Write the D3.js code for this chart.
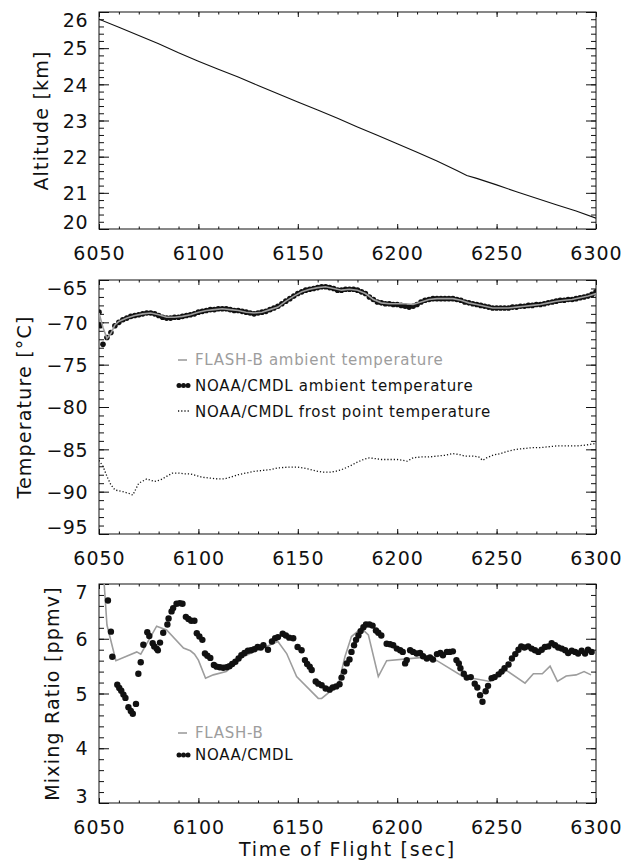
<!DOCTYPE html>
<html><head><meta charset="utf-8">
<script src="https://cdn.jsdelivr.net/npm/d3@7"></script>
<style>
html,body{margin:0;padding:0;background:#fff;}
svg{display:block;}
text{font-family:"DejaVu Sans",sans-serif;fill:#111;}
</style></head>
<body>
<script>
// ---------------- DATA ----------------
const timeDomain = [6050, 6300];
const timeTicks = [6050, 6100, 6150, 6200, 6250, 6300];

const altTicks = [20, 21, 22, 23, 24, 25, 26];
const altitude = [[6050,25.80],[6060,25.58],[6070,25.35],[6080,25.12],[6090,24.87],[6100,24.64],[6110,24.42],[6120,24.20],[6130,23.97],[6140,23.74],[6150,23.51],[6160,23.29],[6170,23.06],[6180,22.82],[6190,22.59],[6200,22.36],[6210,22.12],[6220,21.88],[6230,21.62],[6235,21.48],[6240,21.40],[6250,21.22],[6260,21.03],[6270,20.85],[6280,20.67],[6290,20.50],[6300,20.30]];

const tempTicks = [-95, -90, -85, -80, -75, -70, -65];
const flashTemp = [[6050,-68.9],[6052,-70.6],[6054,-71.9],[6056,-71.3],[6058,-70.3],[6060,-69.9],[6064,-69.5],[6068,-69.2],[6072,-69.0],[6076,-68.9],[6080,-69.1],[6084,-69.4],[6088,-69.4],[6092,-69.3],[6096,-69.1],[6100,-68.8],[6104,-68.6],[6108,-68.5],[6112,-68.4],[6116,-68.5],[6120,-68.6],[6124,-68.8],[6128,-68.9],[6132,-68.8],[6136,-68.5],[6140,-68.2],[6144,-67.5],[6148,-66.9],[6152,-66.4],[6156,-66.1],[6160,-65.9],[6164,-65.8],[6168,-66.0],[6172,-66.2],[6176,-66.1],[6180,-66.2],[6184,-66.6],[6188,-67.3],[6192,-67.7],[6196,-67.8],[6200,-67.8],[6204,-67.8],[6208,-67.9],[6212,-67.6],[6216,-67.3],[6220,-67.2],[6224,-67.2],[6228,-67.2],[6232,-67.4],[6236,-67.7],[6240,-67.9],[6244,-68.1],[6248,-68.3],[6252,-68.3],[6256,-68.3],[6260,-68.2],[6264,-68.1],[6268,-68.0],[6272,-67.9],[6276,-67.7],[6280,-67.5],[6284,-67.4],[6288,-67.3],[6292,-67.1],[6296,-66.9],[6300,-66.6]];

const noaaTemp = [[6050,-68.8],[6050.6,-70.4],[6052,-72.6],[6054,-71.8],[6056,-71.2],[6058,-70.4],[6060,-70.0],[6062,-69.7],[6064,-69.5],[6066,-69.3],[6068,-69.2],[6070,-69.1],[6072,-69.0],[6074,-68.9],[6076,-68.9],[6078,-69.0],[6080,-69.2],[6082,-69.4],[6084,-69.5],[6086,-69.5],[6088,-69.4],[6090,-69.4],[6092,-69.3],[6094,-69.2],[6096,-69.1],[6098,-69.0],[6100,-68.8],[6102,-68.7],[6104,-68.6],[6106,-68.5],[6108,-68.5],[6110,-68.4],[6112,-68.4],[6114,-68.4],[6116,-68.5],[6118,-68.6],[6120,-68.6],[6122,-68.7],[6124,-68.8],[6126,-68.9],[6128,-69.0],[6130,-68.9],[6132,-68.8],[6134,-68.7],[6136,-68.5],[6138,-68.3],[6140,-68.1],[6142,-67.8],[6144,-67.5],[6146,-67.2],[6148,-66.9],[6150,-66.6],[6152,-66.4],[6154,-66.2],[6156,-66.1],[6158,-66.0],[6160,-65.9],[6162,-65.8],[6164,-65.8],[6166,-65.9],[6168,-66.0],[6170,-66.2],[6172,-66.2],[6174,-66.1],[6176,-66.1],[6178,-66.1],[6180,-66.2],[6182,-66.4],[6184,-66.6],[6186,-67.0],[6188,-67.3],[6190,-67.6],[6192,-67.7],[6194,-67.8],[6196,-67.8],[6198,-67.9],[6200,-67.9],[6202,-68.0],[6204,-68.1],[6206,-68.2],[6208,-68.1],[6210,-67.9],[6212,-67.6],[6214,-67.4],[6216,-67.3],[6218,-67.2],[6220,-67.2],[6222,-67.2],[6224,-67.2],[6226,-67.2],[6228,-67.2],[6230,-67.3],[6232,-67.4],[6234,-67.6],[6236,-67.7],[6238,-67.8],[6240,-67.9],[6242,-68.0],[6244,-68.1],[6246,-68.2],[6248,-68.3],[6250,-68.3],[6252,-68.3],[6254,-68.3],[6256,-68.3],[6258,-68.2],[6260,-68.2],[6262,-68.1],[6264,-68.1],[6266,-68.0],[6268,-68.0],[6270,-67.9],[6272,-67.9],[6274,-67.8],[6276,-67.7],[6278,-67.6],[6280,-67.5],[6282,-67.4],[6284,-67.4],[6286,-67.3],[6288,-67.3],[6290,-67.2],[6292,-67.1],[6294,-67.0],[6296,-66.9],[6298,-66.7],[6300,-66.4]];

const frostPoint = [[6050,-86.3],[6052,-87.0],[6054,-88.2],[6056,-89.2],[6058,-89.8],[6062,-90.0],[6065,-90.2],[6067,-90.4],[6070,-89.0],[6074,-88.5],[6078,-88.8],[6081,-88.6],[6084,-88.2],[6087,-87.8],[6090,-87.8],[6093,-87.9],[6096,-87.9],[6099,-88.1],[6102,-88.3],[6106,-88.4],[6110,-88.5],[6113,-88.5],[6116,-88.3],[6120,-88.0],[6124,-87.8],[6128,-87.6],[6132,-87.5],[6136,-87.4],[6140,-87.2],[6145,-87.1],[6150,-87.1],[6155,-87.3],[6160,-87.6],[6163,-87.7],[6166,-87.7],[6169,-87.6],[6172,-87.4],[6176,-87.0],[6180,-86.5],[6183,-86.2],[6186,-86.0],[6189,-86.1],[6192,-86.2],[6196,-86.2],[6200,-86.2],[6203,-86.3],[6205,-86.4],[6208,-86.0],[6212,-85.9],[6216,-85.9],[6220,-85.8],[6224,-85.7],[6228,-85.5],[6231,-85.6],[6234,-85.8],[6238,-85.8],[6241,-85.9],[6243,-86.3],[6245,-86.0],[6248,-85.7],[6252,-85.5],[6256,-85.2],[6260,-85.0],[6264,-84.9],[6268,-84.8],[6272,-84.8],[6276,-84.7],[6280,-84.6],[6285,-84.6],[6290,-84.6],[6295,-84.5],[6300,-84.3]];

const mixTicks = [3, 4, 5, 6, 7];
const flashMix = [[6051.5,7.6],[6054,6.25],[6058.5,5.60],[6069,5.76],[6071,5.72],[6079,6.23],[6084,6.16],[6092.5,5.83],[6096,5.78],[6098,5.72],[6100,5.61],[6103.6,5.28],[6107.5,5.34],[6114,5.40],[6118,5.52],[6121,5.64],[6126,5.73],[6140,5.95],[6144.4,5.73],[6149.4,5.31],[6160.3,4.91],[6162,4.91],[6170.4,5.16],[6173.7,5.67],[6177,6.04],[6182,6.19],[6185.5,6.07],[6190.5,5.31],[6194.7,5.60],[6213,5.66],[6220,5.60],[6233,5.31],[6246.7,5.22],[6255,5.42],[6264.3,5.19],[6268.5,5.36],[6273,5.36],[6276.9,5.50],[6280.6,5.22],[6285,5.32],[6290,5.34],[6294,5.40],[6297.5,5.34]];

const noaaMix = [[6054.5,6.70],[6056,6.13],[6056.7,5.67],[6059.2,5.16],[6060.2,5.10],[6061.2,5.05],[6062.3,4.98],[6063.3,4.92],[6064.8,4.75],[6066,4.68],[6067,4.63],[6068.6,4.81],[6069.8,5.36],[6071,5.57],[6072.3,5.89],[6074.3,6.12],[6075.3,6.05],[6077,5.92],[6077.8,5.86],[6079,5.82],[6079.6,5.79],[6080.7,5.93],[6082.3,6.11],[6084.4,6.26],[6085,6.37],[6086.5,6.50],[6087.3,6.56],[6089,6.64],[6090.6,6.65],[6092,6.64],[6093.7,6.40],[6095,6.36],[6096.4,6.33],[6098,6.33],[6099.2,6.10],[6100.5,6.04],[6102,5.98],[6103.3,5.73],[6104.5,5.69],[6106,5.65],[6107.8,5.52],[6109.2,5.49],[6110.8,5.48],[6112.5,5.47],[6114.2,5.48],[6115.6,5.50],[6117,5.54],[6118.6,5.58],[6120.2,5.64],[6121.6,5.70],[6123.2,5.74],[6124.9,5.78],[6126.5,5.79],[6128.1,5.81],[6129.8,5.85],[6131.4,5.84],[6132.7,5.88],[6135,5.80],[6137,5.95],[6138.6,6.01],[6140,6.03],[6142.4,6.09],[6144,6.06],[6145.7,6.02],[6147.7,6.01],[6149.9,5.85],[6151.9,5.79],[6153.6,5.61],[6154.7,5.54],[6156,5.49],[6157,5.43],[6159,5.22],[6160.3,5.18],[6162,5.15],[6164,5.09],[6166,5.07],[6167.6,5.11],[6169.3,5.13],[6171,5.17],[6172,5.29],[6173.3,5.40],[6174.6,5.55],[6176,5.62],[6177,5.76],[6178.3,5.88],[6179.3,5.98],[6180.5,6.06],[6181.6,6.14],[6183,6.21],[6184.3,6.26],[6186,6.26],[6187.6,6.24],[6189.3,6.15],[6190.5,6.11],[6192,6.06],[6194.7,5.91],[6196.4,5.90],[6198,5.88],[6199.8,5.82],[6201.5,5.79],[6202.8,5.76],[6204,5.55],[6204.8,5.61],[6206.5,5.79],[6208,5.76],[6209.8,5.73],[6211.5,5.74],[6213,5.68],[6214.9,5.64],[6216.5,5.66],[6218,5.62],[6220,5.72],[6221.7,5.74],[6223,5.70],[6225,5.76],[6226.4,5.76],[6228,5.77],[6229.8,5.61],[6231,5.55],[6231.8,5.46],[6233.5,5.36],[6235,5.29],[6237,5.30],[6239,5.18],[6240.3,5.11],[6241.7,4.97],[6242.9,4.85],[6244.5,5.04],[6245.7,5.14],[6247.5,5.28],[6249,5.30],[6251,5.35],[6252.5,5.40],[6254,5.46],[6256,5.53],[6257.7,5.64],[6259.4,5.72],[6261,5.80],[6262.4,5.86],[6264,5.84],[6265.9,5.86],[6267.6,5.82],[6269.3,5.79],[6271,5.76],[6272.7,5.80],[6274.3,5.85],[6276,5.86],[6277.7,5.92],[6279.4,5.88],[6281,5.84],[6282.8,5.82],[6284.5,5.79],[6286,5.74],[6287.8,5.78],[6289.5,5.76],[6291,5.73],[6292.8,5.78],[6294.5,5.73],[6296,5.80],[6297.8,5.76]];

// ---------------- LAYOUT ----------------
const W = 622, H = 867;
const X0 = 99, X1 = 596;
const GRAY = "#9d9d9d";
const svg = d3.select("body").append("svg").attr("width", W).attr("height", H);

const x = d3.scaleLinear().domain(timeDomain).range([X0, X1]);

function panel(id, top, bottom, yDomain, yTicks, yMinorStep, title, titleX) {
  const y = d3.scaleLinear().domain(yDomain).range([bottom, top]);
  const g = svg.append("g");
  svg.append("clipPath").attr("id", "clip" + id)
    .append("rect").attr("x", X0).attr("y", top).attr("width", X1 - X0).attr("height", bottom - top);

  const xMinor = d3.range(timeDomain[0], timeDomain[1] + 0.01, 10);
  const yMinor = d3.range(yDomain[0], yDomain[1] + 1e-6, yMinorStep);
  const style = s => s.call(a => a.select(".domain").remove())
                      .call(a => a.selectAll("line").attr("stroke", "#111").attr("stroke-width", 1));

  // bottom axis
  g.append("g").attr("transform", `translate(0,${bottom})`)
    .call(d3.axisBottom(x).tickValues(xMinor).tickSize(-2.5).tickFormat("")).call(style);
  const bx = g.append("g").attr("transform", `translate(0,${bottom})`)
    .call(d3.axisBottom(x).tickValues(timeTicks).tickSize(-5).tickPadding(18).tickFormat(d3.format("d"))).call(style);
  bx.selectAll("text").attr("font-size", 19).attr("letter-spacing", "1px").attr("fill", "#111");
  // top axis
  g.append("g").attr("transform", `translate(0,${top})`)
    .call(d3.axisTop(x).tickValues(xMinor).tickSize(-2.5).tickFormat("")).call(style);
  g.append("g").attr("transform", `translate(0,${top})`)
    .call(d3.axisTop(x).tickValues(timeTicks).tickSize(-5).tickFormat("")).call(style);
  // left axis
  g.append("g").attr("transform", `translate(${X0},0)`)
    .call(d3.axisLeft(y).tickValues(yMinor).tickSize(-5).tickFormat("")).call(style);
  const ly = g.append("g").attr("transform", `translate(${X0},0)`)
    .call(d3.axisLeft(y).tickValues(yTicks).tickSize(-10).tickPadding(11)
      .tickFormat(d => d < 0 ? "\u2212" + Math.abs(d) : String(d))).call(style);
  ly.selectAll("text").attr("font-size", 19).attr("letter-spacing", "0.5px").attr("fill", "#111")
    .attr("dy", d => {
      const py = y(d);
      if (py - top < 8) return (8 - (py - top)) + 6.7;
      if (bottom - py < 7) return -(7 - (bottom - py)) + 6.7;
      return 6.7;
    });
  // right axis
  g.append("g").attr("transform", `translate(${X1},0)`)
    .call(d3.axisRight(y).tickValues(yMinor).tickSize(-5).tickFormat("")).call(style);
  g.append("g").attr("transform", `translate(${X1},0)`)
    .call(d3.axisRight(y).tickValues(yTicks).tickSize(-10).tickFormat("")).call(style);
  // box
  g.append("rect").attr("x", X0).attr("y", top).attr("width", X1 - X0).attr("height", bottom - top)
    .attr("fill", "none").attr("stroke", "#111").attr("stroke-width", 1);
  // title
  svg.append("text").attr("transform", `translate(${titleX},${(top + bottom) / 2}) rotate(-90)`)
    .attr("text-anchor", "middle").attr("dy", "0.35em").attr("font-size", 19).attr("letter-spacing", "1.2px")
    .text(title);
  const plot = svg.append("g").attr("clip-path", `url(#clip${id})`);
  return { y, plot };
}

// ---------- Panel 1: altitude ----------
const p1 = panel("a", 12, 229, [20, 26], altTicks, 0.2, "Altitude [km]", 41);
p1.plot.append("path").datum(altitude)
  .attr("d", d3.line().x(d => x(d[0])).y(d => p1.y(d[1])))
  .attr("fill", "none").attr("stroke", "#111").attr("stroke-width", 1.1);

// ---------- Panel 2: temperature ----------
const p2 = panel("b", 280, 534, [-95, -65], tempTicks, 1, "Temperature [°C]", 24);
p2.plot.append("path").datum(frostPoint)
  .attr("d", d3.line().x(d => x(d[0])).y(d => p2.y(d[1])))
  .attr("fill", "none").attr("stroke", "#111").attr("stroke-width", 1.3).attr("stroke-dasharray", "1.2 2");
p2.plot.selectAll("circle.nt").data(noaaTemp).join("circle")
  .attr("cx", d => x(d[0])).attr("cy", d => p2.y(d[1])).attr("r", 2.8).attr("fill", "#111");
p2.plot.append("path").datum(flashTemp)
  .attr("d", d3.line().x(d => x(d[0])).y(d => p2.y(d[1])))
  .attr("fill", "none").attr("stroke", GRAY).attr("stroke-width", 1.6);

// legend 2
const lg2 = svg.append("g");
lg2.append("line").attr("x1", 178).attr("x2", 187).attr("y1", 360).attr("y2", 360).attr("stroke", GRAY).attr("stroke-width", 1.6);
lg2.append("text").attr("x", 195).attr("y", 360).attr("dy", "0.35em").attr("font-size", 15).attr("letter-spacing", "0.7px").style("fill", GRAY).text("FLASH-B ambient temperature");
lg2.selectAll("circle").data([179, 183.5, 188]).join("circle").attr("cx", d => d).attr("cy", 385.5).attr("r", 2.5).attr("fill", "#111");
lg2.append("text").attr("x", 195).attr("y", 386).attr("dy", "0.35em").attr("font-size", 15).attr("letter-spacing", "0.7px").text("NOAA/CMDL ambient temperature");
lg2.append("line").attr("x1", 178).attr("x2", 189).attr("y1", 411).attr("y2", 411).attr("stroke", "#111").attr("stroke-width", 1.3).attr("stroke-dasharray", "1.2 2");
lg2.append("text").attr("x", 195).attr("y", 411.5).attr("dy", "0.35em").attr("font-size", 15).attr("letter-spacing", "0.7px").text("NOAA/CMDL frost point temperature");

// ---------- Panel 3: mixing ratio ----------
const p3 = panel("c", 584, 803, [3, 7], mixTicks, 0.2, "Mixing Ratio [ppmv]", 52);
p3.plot.append("path").datum(flashMix)
  .attr("d", d3.line().x(d => x(d[0])).y(d => p3.y(d[1])))
  .attr("fill", "none").attr("stroke", GRAY).attr("stroke-width", 1.6);
p3.plot.selectAll("circle.nm").data(noaaMix).join("circle")
  .attr("cx", d => x(d[0])).attr("cy", d => p3.y(d[1])).attr("r", 3.2).attr("fill", "#111");

// legend 3
const lg3 = svg.append("g");
lg3.append("line").attr("x1", 178).attr("x2", 187).attr("y1", 733).attr("y2", 733).attr("stroke", GRAY).attr("stroke-width", 1.6);
lg3.append("text").attr("x", 195).attr("y", 733).attr("dy", "0.35em").attr("font-size", 15).attr("letter-spacing", "0.7px").style("fill", GRAY).text("FLASH-B");
lg3.selectAll("circle").data([179, 183.5, 188]).join("circle").attr("cx", d => d).attr("cy", 755).attr("r", 2.5).attr("fill", "#111");
lg3.append("text").attr("x", 195).attr("y", 755).attr("dy", "0.35em").attr("font-size", 15).attr("letter-spacing", "0.7px").text("NOAA/CMDL");

// x title
svg.append("text").attr("x", (X0 + X1) / 2).attr("y", 849).attr("dy", "0.35em").attr("text-anchor", "middle")
  .attr("font-size", 19).attr("letter-spacing", "1.7px").text("Time of Flight [sec]");
</script>
</body></html>
